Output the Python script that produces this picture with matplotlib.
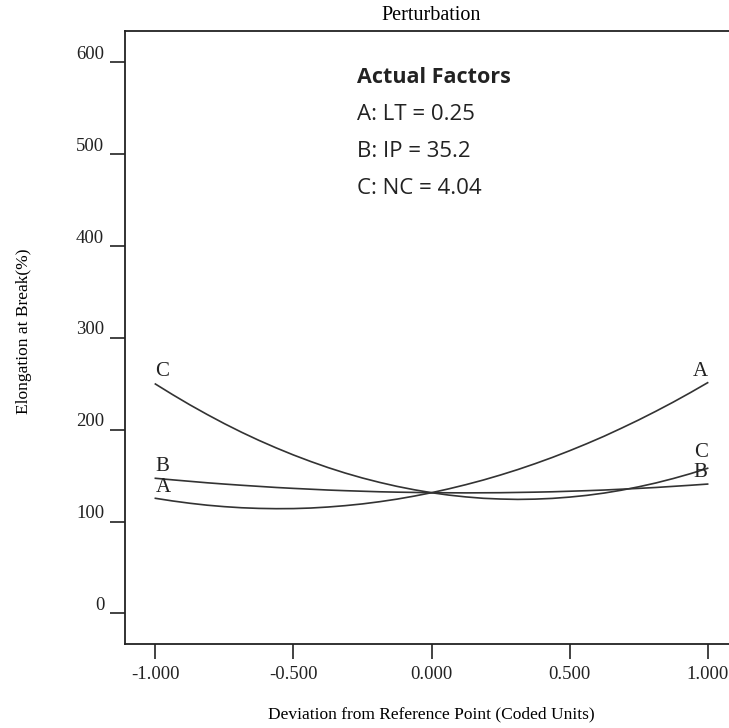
import numpy as np
import matplotlib.pyplot as plt
import matplotlib.transforms as mtransforms

# coded deviation from the reference point
dev = [-1.0, -0.9375, -0.875, -0.8125, -0.75, -0.6875, -0.625, -0.5625,
       -0.5, -0.4375, -0.375, -0.3125, -0.25, -0.1875, -0.125, -0.0625,
       0.0, 0.0625, 0.125, 0.1875, 0.25, 0.3125, 0.375, 0.4375,
       0.5, 0.5625, 0.625, 0.6875, 0.75, 0.8125, 0.875, 0.9375, 1.0]

# elongation at break (%)
elong_A = [125.3, 122.4, 119.9, 117.8, 116.2, 115.0, 114.3, 114.0,
           114.1, 114.7, 115.8, 117.3, 119.2, 121.6, 124.4, 127.7,
           131.4, 135.6, 140.2, 145.2, 150.7, 156.6, 163.0, 169.8,
           177.1, 184.8, 192.9, 201.6, 210.6, 220.1, 230.0, 240.4, 251.2]
elong_B = [147.1, 145.4, 143.8, 142.2, 140.8, 139.5, 138.3, 137.1,
           136.1, 135.2, 134.3, 133.6, 133.0, 132.4, 132.0, 131.7,
           131.4, 131.3, 131.2, 131.3, 131.4, 131.7, 132.0, 132.4,
           133.0, 133.6, 134.3, 135.2, 136.1, 137.1, 138.3, 139.5, 140.8]
elong_C = [249.8, 238.2, 227.1, 216.6, 206.6, 197.2, 188.4, 180.2,
           172.5, 165.4, 158.8, 152.8, 147.4, 142.6, 138.3, 134.6,
           131.4, 128.8, 126.8, 125.3, 124.5, 124.1, 124.4, 125.2,
           126.6, 128.5, 131.0, 134.1, 137.8, 142.0, 146.8, 152.1, 158.0]

yticks = [0, 100, 200, 300, 400, 500, 600]
xticks = [-1.0, -0.5, 0.0, 0.5, 1.0]

factors = ["A: LT = 0.25", "B: IP = 35.2", "C: NC = 4.04"]

serif = "Liberation Serif"
sans = "Open Sans"

fig = plt.figure(figsize=(7.29, 7.28), dpi=100)
ax = fig.add_axes([125 / 729, 84 / 728, 613 / 729, 613 / 728])

ax.plot(dev, elong_A, color="#333333", lw=1.2)
ax.plot(dev, elong_B, color="#333333", lw=1.2)
ax.plot(dev, elong_C, color="#333333", lw=1.2)

ax.set_xlim(-1.11, 1.11)
ax.set_ylim(-33.4, 634.3)

for s in ["left", "bottom", "top", "right"]:
    ax.spines[s].set_linewidth(1.3)
    ax.spines[s].set_color("#222222")

ax.set_xticks(xticks)
ax.set_xticklabels(["%.3f" % v for v in xticks], fontfamily=serif, fontsize=13.5)
ax.set_yticks(yticks)
ax.set_yticklabels([str(v) for v in yticks], fontfamily=serif, fontsize=13.5)
ax.tick_params(axis="x", direction="out", length=11, width=1.2, pad=5, colors="#222222")
ax.tick_params(axis="y", direction="out", length=11, width=1.2, pad=4, colors="#222222")

# y labels sit above their tick marks
shift = mtransforms.ScaledTranslation(0, 0.10, fig.dpi_scale_trans)
for lab in ax.get_yticklabels():
    lab.set_transform(lab.get_transform() + shift)

ax.set_xlabel("Deviation from Reference Point (Coded Units)", fontfamily=serif,
              fontsize=12.5)
ax.xaxis.set_label_coords(0.5, -0.101)
ax.set_ylabel("Elongation at Break(%)", fontfamily=serif, fontsize=12.5)
ax.yaxis.set_label_coords(-0.152, 0.51)
ax.set_title("Perturbation", fontfamily=serif, fontsize=14.5, pad=8)

# curve labels at the ends
lab_kw = dict(fontfamily=serif, fontsize=15, color="#222222", textcoords="offset points",
              va="baseline")
ax.annotate("C", (dev[0], elong_C[0]), xytext=(0, 5.8), ha="left", **lab_kw)
ax.annotate("B", (dev[0], elong_B[0]), xytext=(0, 5), ha="left", **lab_kw)
ax.annotate("A", (dev[0], elong_A[0]), xytext=(0, 4.5), ha="left", **lab_kw)
ax.annotate("A", (dev[-1], elong_A[-1]), xytext=(0, 4.8), ha="right", **lab_kw)
ax.annotate("C", (dev[-1], elong_C[-1]), xytext=(0, 8), ha="right", **lab_kw)
ax.annotate("B", (dev[-1], elong_B[-1]), xytext=(0, 5), ha="right", **lab_kw)

# actual factors box text
fig.text(357 / 729, 1 - 83 / 728, "Actual Factors", fontfamily=sans, fontweight="bold",
         fontsize=15.5, color="#222222", va="baseline")
for i, f in enumerate(factors):
    fig.text(357 / 729, 1 - (120 + 37 * i) / 728, f, fontfamily=sans, fontsize=16,
             color="#222222", va="baseline")

fig.savefig("out.png", dpi=100)
